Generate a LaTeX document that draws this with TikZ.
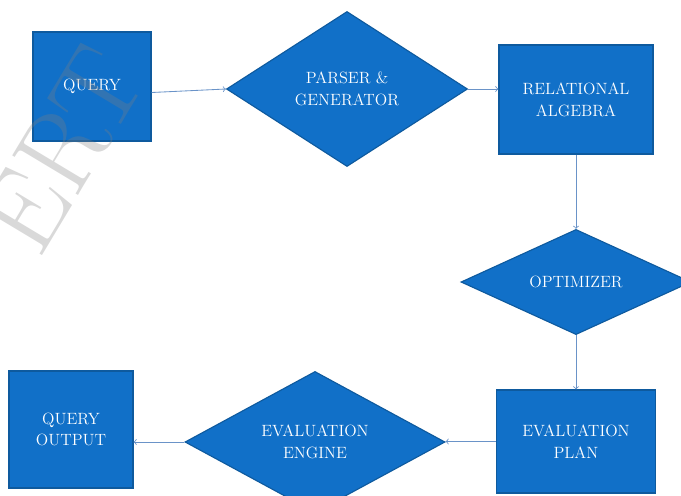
\documentclass[tikz,border=0pt]{standalone}
\usepackage{xcolor}
\usepackage{tikz}
\usetikzlibrary{shapes.geometric,positioning,calc}

\definecolor{boxblue}{HTML}{1170C8}
\definecolor{edgeblue}{HTML}{0E5A9E}
\definecolor{linkblue}{HTML}{6A93C8}

\begin{document}
\begin{tikzpicture}[x=0.025cm, y=-0.025cm,
  blockbox/.style={rectangle, fill=boxblue, draw=edgeblue, line width=0.8pt,
                   text=white, align=center, font=\fontsize{11.6}{15.5}\selectfont},
  decbox/.style={diamond, fill=boxblue, draw=edgeblue, line width=0.8pt, inner sep=0pt,
                 text=white, align=center, font=\fontsize{11.6}{15.5}\selectfont},
  flow/.style={->, >=to, draw=linkblue, line width=0.6pt}]

% Canvas
\clip (0,0) rectangle (681,495);

% Top row
\node[blockbox, minimum width=2.95cm, minimum height=2.725cm] (query) at (92,86.5) {QUERY};
\node[decbox, minimum width=6.025cm, minimum height=3.875cm] (parser) at (347,89)
  {PARSER \&\\GENERATOR};
\node[blockbox, minimum width=3.85cm, minimum height=2.725cm] (relalg) at (576,99.5)
  {RELATIONAL\\ALGEBRA};

% Right column
\node[decbox, minimum width=5.75cm, minimum height=2.575cm] (optim) at (576,282) {OPTIMIZER};

% Bottom row
\node[blockbox, minimum width=3.975cm, minimum height=2.575cm] (plan) at (576,441.5)
  {EVALUATION\\PLAN};
\node[decbox, minimum width=6.5cm, minimum height=2.9cm] (engine) at (315,442)
  {EVALUATION\\ENGINE};
\node[blockbox, minimum width=3.1cm, minimum height=2.925cm] (qout) at (71,429.5)
  {QUERY\\OUTPUT};

% Connectors
\draw[flow] ([yshift=-0.15cm]query.east) -- (parser.west);
\draw[flow] (parser.east) -- (parser.east -| relalg.west);
\draw[flow] (relalg) -- (optim);
\draw[flow] (optim) -- (plan);
\draw[flow] (plan.west) -- (plan.west -| engine.east);
\draw[flow] (engine.west) -- (engine.west -| qout.east);

% Watermark
\node[text=gray, opacity=0.3, rotate=59, font=\fontsize{80}{80}\selectfont] (mark) at (62,150) {ERT};

\end{tikzpicture}
\end{document}
